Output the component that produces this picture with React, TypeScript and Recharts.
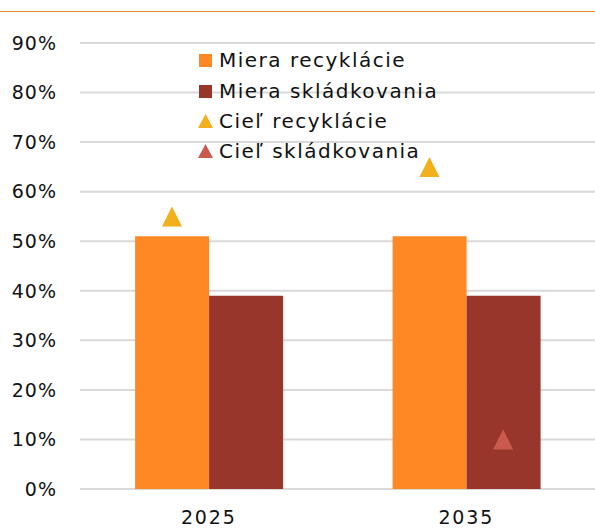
import { ComposedChart, Bar, Scatter, XAxis, YAxis, CartesianGrid } from 'recharts';

const years = ['2025', '2035'];
const recyclingRate = [51, 51];
const landfillRate = [39, 39];
const recyclingTarget = [55, 65];
const landfillTarget: (number | null)[] = [null, 10];
const yTicks = [0, 10, 20, 30, 40, 50, 60, 70, 80, 90];

const colors = {
  recycling: '#fd8824',
  landfill: '#98362c',
  recTarget: '#f2b01c',
  landTarget: '#c95a4e',
  grid: '#d9d9d9',
  rule: '#e8873a',
  text: '#111',
};

const data = years.map((year, i) => ({
  year,
  recycling: recyclingRate[i],
  landfill: landfillRate[i],
  recTarget: recyclingTarget[i],
  landTarget: landfillTarget[i],
}));

const legendItems = [
  { label: 'Miera recyklácie', color: colors.recycling, shape: 'square' },
  { label: 'Miera skládkovania', color: colors.landfill, shape: 'square' },
  { label: 'Cieľ recyklácie', color: colors.recTarget, shape: 'triangle' },
  { label: 'Cieľ skládkovania', color: colors.landTarget, shape: 'triangle' },
];

const font = '"DejaVu Sans", sans-serif';
const BAR_HALF = 36.8;

function triangle(color: string, shift: number) {
  return (props: any) => {
    const { cx, cy, payload } = props;
    if (cy == null || Number.isNaN(cy) || payload == null) return <g />;
    const x = cx + shift;
    return (
      <polygon
        points={`${x - 10},${cy + 10} ${x + 10},${cy + 10} ${x},${cy - 10}`}
        fill={color}
      />
    );
  };
}

function LegendBox() {
  return (
    <div
      style={{
        position: 'absolute',
        left: 197,
        top: 45,
        fontFamily: font,
        fontSize: 20,
        letterSpacing: 1.5,
        color: colors.text,
      }}
    >
      {legendItems.map((it) => (
        <div key={it.label} style={{ display: 'flex', alignItems: 'center', height: 30.4 }}>
          <svg width={16} height={16} style={{ marginRight: 6 }}>
            {it.shape === 'square' ? (
              <rect x={2} y={2} width={13} height={13} fill={it.color} />
            ) : (
              <polygon points="1,15 16,15 8.5,1" fill={it.color} />
            )}
          </svg>
          <span>{it.label}</span>
        </div>
      ))}
    </div>
  );
}

export default function App() {
  return (
    <div style={{ position: 'absolute', left: 0, top: 0, width: 595, height: 529, background: '#fff' }}>
      <div style={{ position: 'absolute', left: 0, top: 11, width: 595, height: 1, background: colors.rule }} />
      <ComposedChart
        width={595}
        height={529}
        data={data}
        margin={{ top: 43, right: 0, left: 0, bottom: 10 }}
        barCategoryGap="21.4%"
        barGap={0}
      >
        <CartesianGrid vertical={false} stroke={colors.grid} strokeWidth={2} />
        <XAxis
          dataKey="year"
          axisLine={false}
          tickLine={false}
          tickSize={0}
          tickMargin={22}
          height={30}
          tick={{ fill: colors.text, fontSize: 19, fontFamily: font, letterSpacing: 1.8 }}
        />
        <YAxis
          domain={[0, 90]}
          ticks={yTicks}
          width={80}
          axisLine={false}
          tickLine={false}
          tickSize={0}
          tickMargin={23}
          tickFormatter={(v) => `${v}%`}
          tick={{ fill: colors.text, fontSize: 19, fontFamily: font, letterSpacing: 1 }}
        />
        <Bar dataKey="recycling" fill={colors.recycling} isAnimationActive={false} />
        <Bar dataKey="landfill" fill={colors.landfill} isAnimationActive={false} />
        <Scatter
          dataKey="recTarget"
          shape={triangle(colors.recTarget, -BAR_HALF)}
          isAnimationActive={false}
        />
        <Scatter
          dataKey="landTarget"
          shape={triangle(colors.landTarget, BAR_HALF)}
          isAnimationActive={false}
        />
      </ComposedChart>
      <LegendBox />
    </div>
  );
}
